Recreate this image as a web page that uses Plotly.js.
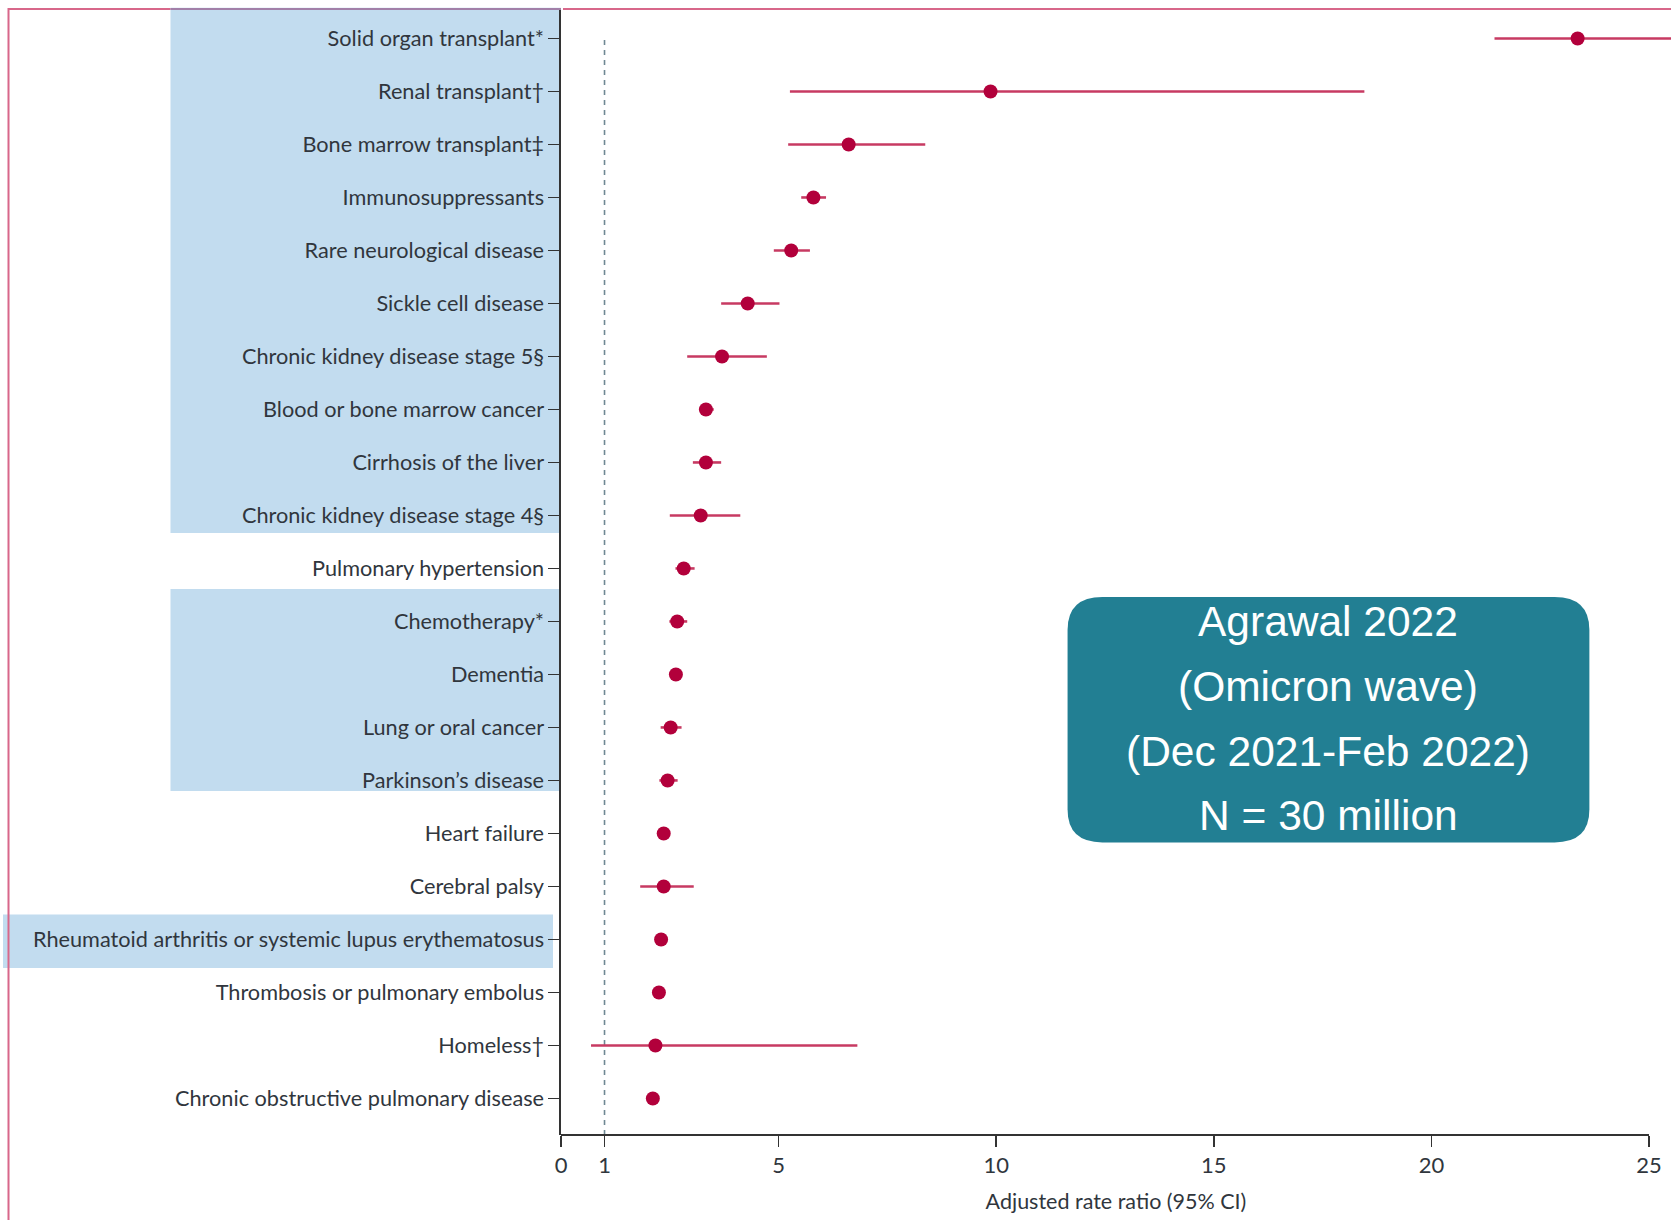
<!DOCTYPE html>
<html>
<head>
<meta charset="utf-8">
<script src="https://cdn.plot.ly/plotly-3.0.1.min.js"></script>
<style>
  html, body { margin: 0; padding: 0; background: #ffffff; }
  #chart { width: 1671px; height: 1220px; }
</style>
</head>
<body>
<div id="chart"></div>
<script>
// Conditions, listed top to bottom
const categories = [
  "Solid organ transplant*",
  "Renal transplant†",
  "Bone marrow transplant‡",
  "Immunosuppressants",
  "Rare neurological disease",
  "Sickle cell disease",
  "Chronic kidney disease stage 5§",
  "Blood or bone marrow cancer",
  "Cirrhosis of the liver",
  "Chronic kidney disease stage 4§",
  "Pulmonary hypertension",
  "Chemotherapy*",
  "Dementia",
  "Lung or oral cancer",
  "Parkinson’s disease",
  "Heart failure",
  "Cerebral palsy",
  "Rheumatoid arthritis or systemic lupus erythematosus",
  "Thrombosis or pulmonary embolus",
  "Homeless†",
  "Chronic obstructive pulmonary disease"
];

// Adjusted rate ratio and 95% CI bounds
const rateRatio = [23.36, 9.87, 6.61, 5.80, 5.29, 4.29, 3.70, 3.33, 3.33, 3.21, 2.82,
                   2.67, 2.64, 2.52, 2.45, 2.36, 2.36, 2.30, 2.25, 2.17, 2.11];
const ciLower   = [21.45, 5.26, 5.22, 5.52, 4.89, 3.68, 2.90, 3.17, 3.03, 2.50, 2.63,
                   2.49, 2.52, 2.29, 2.26, 2.27, 1.82, 2.22, 2.17, 0.69, 2.05];
const ciUpper   = [25.90, 18.46, 8.37, 6.09, 5.72, 5.02, 4.73, 3.51, 3.68, 4.12, 3.07,
                   2.90, 2.76, 2.77, 2.68, 2.46, 3.05, 2.38, 2.33, 6.81, 2.18];

const xTicks = [0, 1, 5, 10, 15, 20, 25];

// Highlighted groups of rows: [first row, last row]
const highlightGroups = [[0, 9], [11, 14]];
const highlightSingle = [17];

const infoLines = ["Agrawal 2022", "(Omicron wave)", "(Dec 2021-Feb 2022)", "N = 30 million"];

// ---- layout geometry ----
const W = 1671, H = 1220;
const M = { l: 561, r: 0, t: 8, b: 85 };
const plotW = W - M.l - M.r;
const plotH = H - M.t - M.b;
const pxPerUnit = 43.52;
const xRange = [0, plotW / pxPerUnit];
const yRange = [20.69, -0.575];

// pixel helpers -> paper coordinates
const pxToPaperX = px => (px - M.l) / plotW;
const rowToPaperY = r => (yRange[0] - r) / (yRange[0] - yRange[1]);
const pxToPaperY = py => 1 - (py - M.t) / plotH;

const labelFont = "Lato, 'Noto Sans', sans-serif";
const textColor = "#30363d";
const pink = "#d8678a";
const blue = "#c2dcef";

const shapes = [];

// shaded blocks behind row labels
highlightGroups.forEach(([a, b], i) => {
  shapes.push({
    type: "rect", xref: "paper", yref: "paper", layer: "below",
    x0: pxToPaperX(170.5), x1: 0,
    y0: rowToPaperY(i === 0 ? -0.58 : a - 0.61),
    y1: rowToPaperY(i === 0 ? b + 0.33 : b + 0.2),
    fillcolor: blue, line: { width: 0 }
  });
});
highlightSingle.forEach(r => {
  shapes.push({
    type: "rect", xref: "paper", yref: "paper", layer: "below",
    x0: pxToPaperX(3), x1: pxToPaperX(553),
    y0: rowToPaperY(r - 0.47), y1: rowToPaperY(r + 0.54),
    fillcolor: blue, line: { width: 0 }
  });
});

// slide frame
shapes.push({
  type: "line", xref: "paper", yref: "paper", layer: "above",
  x0: pxToPaperX(8.5), x1: pxToPaperX(8.5), y0: 1, y1: pxToPaperY(H),
  line: { color: pink, width: 2 }
});
shapes.push({
  type: "line", xref: "paper", yref: "paper", layer: "above",
  x0: pxToPaperX(8.5), x1: pxToPaperX(170.5), y0: pxToPaperY(9), y1: pxToPaperY(9),
  line: { color: pink, width: 2 }
});
shapes.push({
  type: "line", xref: "paper", yref: "paper", layer: "above",
  x0: pxToPaperX(170.5), x1: 0, y0: pxToPaperY(9), y1: pxToPaperY(9),
  line: { color: "#a27fa8", width: 2 }
});
shapes.push({
  type: "line", xref: "paper", yref: "paper", layer: "above",
  x0: pxToPaperX(563), x1: 1, y0: pxToPaperY(9), y1: pxToPaperY(9),
  line: { color: pink, width: 2 }
});

// reference line at rate ratio = 1
shapes.push({
  type: "line", xref: "x", yref: "y", layer: "below",
  x0: 1, x1: 1, y0: 0.03, y1: yRange[0],
  line: { color: "#6f8893", width: 1.6, dash: "5px,5px" }
});

// x axis baseline, ending at 25
shapes.push({
  type: "line", xref: "x", yref: "paper", layer: "above",
  x0: 0, x1: 25, y0: 0, y1: 0,
  line: { color: "#333333", width: 2 }
});

// rounded info box
const bx0 = 11.64, bx1 = 23.63, by0 = 10.54, by1 = 15.17, rx = 0.8, ry = 0.62;
shapes.push({
  type: "path", xref: "x", yref: "y", layer: "above",
  path: `M ${bx0 + rx},${by0} L ${bx1 - rx},${by0} Q ${bx1},${by0} ${bx1},${by0 + ry} ` +
        `L ${bx1},${by1 - ry} Q ${bx1},${by1} ${bx1 - rx},${by1} ` +
        `L ${bx0 + rx},${by1} Q ${bx0},${by1} ${bx0},${by1 - ry} ` +
        `L ${bx0},${by0 + ry} Q ${bx0},${by0} ${bx0 + rx},${by0} Z`,
  fillcolor: "#227f93", line: { width: 0 }
});

const infoRows = [11.0, 12.23, 13.45, 14.66];
const annotations = infoLines.map((t, i) => ({
  text: t, x: (bx0 + bx1) / 2, y: infoRows[i], xref: "x", yref: "y",
  showarrow: false, xanchor: "center", yanchor: "middle",
  font: { family: "'Liberation Sans', Arial, sans-serif", size: 42.5, color: "#ffffff" }
}));

const trace = {
  type: "scatter", mode: "markers",
  x: rateRatio, y: categories,
  marker: { color: "#b2003b", size: 14, line: { width: 0 } },
  error_x: {
    type: "data", symmetric: false,
    array: rateRatio.map((v, i) => ciUpper[i] - v),
    arrayminus: rateRatio.map((v, i) => v - ciLower[i]),
    color: "#c73a62", thickness: 2.6, width: 0
  },
  hoverinfo: "x+y", cliponaxis: true
};

const layout = {
  width: W, height: H,
  margin: M,
  paper_bgcolor: "#ffffff", plot_bgcolor: "rgba(0,0,0,0)",
  showlegend: false,
  font: { family: labelFont, color: textColor },
  xaxis: {
    range: xRange, tickmode: "array", tickvals: xTicks, ticktext: xTicks.map(String),
    showline: false, showgrid: false, zeroline: false,
    ticks: "outside", ticklen: 11, tickwidth: 1.5, tickcolor: "#333333",
    tickfont: { family: labelFont, size: 22, color: textColor },
    title: { text: "Adjusted rate ratio (95% CI)", font: { family: labelFont, size: 21.5, color: textColor }, standoff: 16 },
    automargin: false, fixedrange: true
  },
  yaxis: {
    type: "category", categoryorder: "array", categoryarray: categories,
    range: yRange, showgrid: false, zeroline: false,
    showline: true, linecolor: "#333333", linewidth: 1.6,
    ticks: "outside", ticklen: 11, tickwidth: 1.5, tickcolor: "#333333",
    tickfont: { family: labelFont, size: 21.7, color: textColor },
    automargin: false, fixedrange: true
  },
  shapes: shapes,
  annotations: annotations
};

Plotly.newPlot("chart", [trace], layout, { staticPlot: true, displayModeBar: false });
</script>
</body>
</html>
